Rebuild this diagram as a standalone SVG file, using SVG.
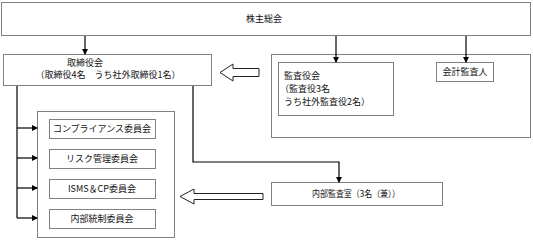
<svg xmlns="http://www.w3.org/2000/svg" width="533" height="240" viewBox="0 0 533 240">
<defs>
<marker id="ah" markerWidth="6" markerHeight="6" refX="5" refY="3" orient="auto" markerUnits="userSpaceOnUse">
<path d="M0,0 L6,3 L0,6 Z" fill="#000"/>
</marker>
<style>
.box{fill:#fff;stroke:#808080;stroke-width:1}
.t{font-family:"Noto Sans CJK JP","Liberation Sans",sans-serif;font-size:9px;fill:#111}
.c{text-anchor:middle}
.ln{fill:none;stroke:#000;stroke-width:1.2}
.ha{fill:#fff;stroke:#222;stroke-width:1}
</style>
</defs>
<rect width="533" height="240" fill="#fff"/>
<g id="shareholders">
<rect class="box" x="1.5" y="2.5" width="529" height="33"/>
<text class="t c" x="264" y="22">株主総会</text>
</g>
<g id="board">
<rect class="box" x="3.5" y="54.5" width="208" height="31"/>
<text class="t c" x="85" y="66">取締役会</text>
<text class="t c" x="108" y="78">（取締役4名　うち社外取締役1名）</text>
</g>
<g id="audit-group">
<rect class="box" x="271.5" y="54.5" width="259" height="83"/>
</g>
<g id="auditors">
<rect class="box" x="278.5" y="62.5" width="115" height="53"/>
<text class="t" x="284" y="79">監査役会</text>
<text class="t" x="280" y="92">（監査役3名</text>
<text class="t" x="284" y="105">うち社外監査役2名）</text>
</g>
<g id="accounting-auditor">
<rect class="box" x="436.5" y="62.5" width="57" height="19"/>
<text class="t c" x="465" y="75">会計監査人</text>
</g>
<g id="committees">
<rect class="box" x="37.5" y="111.5" width="137" height="126"/>
</g>
<g id="compliance">
<rect class="box" x="49.5" y="119.5" width="106" height="19"/>
<text class="t c" x="102" y="132">コンプライアンス委員会</text>
</g>
<g id="risk">
<rect class="box" x="49.5" y="149.5" width="106" height="19"/>
<text class="t c" x="102" y="162">リスク管理委員会</text>
</g>
<g id="isms">
<rect class="box" x="49.5" y="179.5" width="106" height="19"/>
<text class="t c" x="102" y="192">ISMS＆CP委員会</text>
</g>
<g id="internal-control">
<rect class="box" x="49.5" y="209.5" width="106" height="19"/>
<text class="t c" x="102" y="222">内部統制委員会</text>
</g>
<g id="internal-audit">
<rect class="box" x="271.5" y="182.5" width="171" height="23"/>
<text class="t c" x="356" y="197" textLength="88" lengthAdjust="spacingAndGlyphs">内部監査室（3名（兼））</text>
</g>
<g id="connectors">
<path class="ln" d="M85,36 V54" marker-end="url(#ah)"/>
<path class="ln" d="M336,36 V62" marker-end="url(#ah)"/>
<path class="ln" d="M466,36 V62" marker-end="url(#ah)"/>
<path class="ln" d="M17,86 V218"/>
<path class="ln" d="M17,128 H37" marker-end="url(#ah)"/>
<path class="ln" d="M17,158 H37" marker-end="url(#ah)"/>
<path class="ln" d="M17,188 H37" marker-end="url(#ah)"/>
<path class="ln" d="M17,218 H37" marker-end="url(#ah)"/>
<path class="ln" d="M193,86 V162 H339 V182" marker-end="url(#ah)"/>
<path class="ha" d="M220,72.5 L233,64 V68.5 H259 V76.5 H233 V81 Z"/>
<path class="ha" d="M180,196.5 L194,189 V193.5 H263 V199.5 H194 V204 Z"/>
</g>
</svg>
